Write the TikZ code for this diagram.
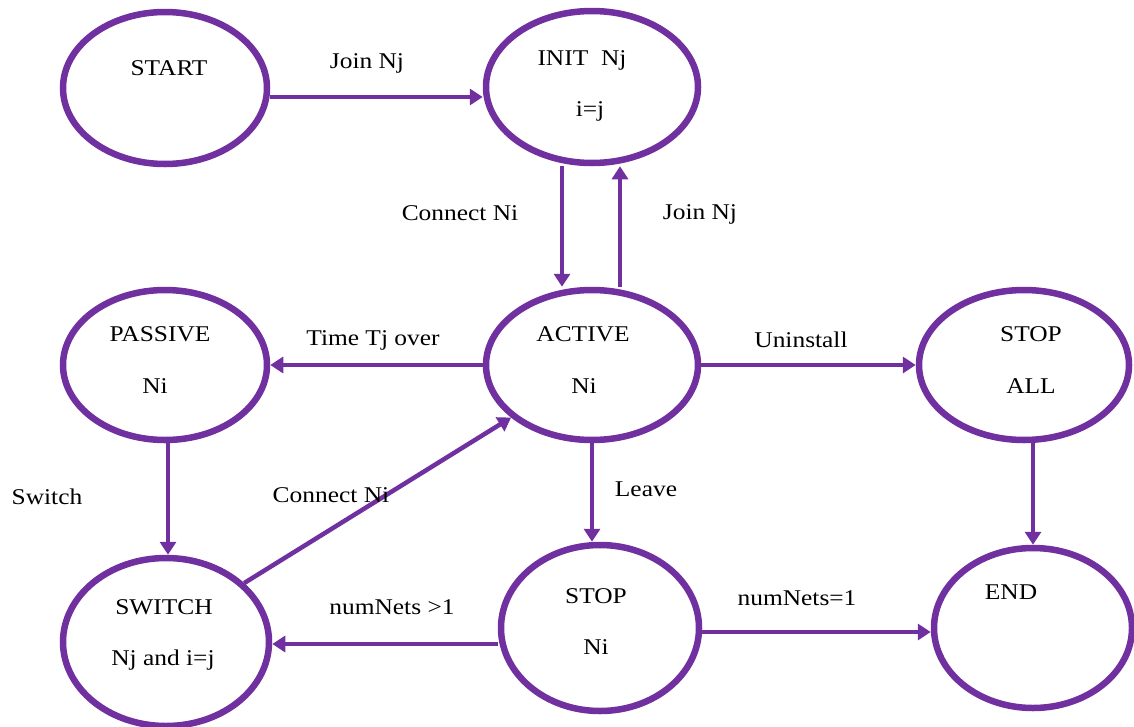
\documentclass[tikz,border=0pt]{standalone}
\usepackage{fontspec}
\setmainfont{Liberation Serif}[FakeStretch=1.13]
\usetikzlibrary{shapes.geometric,arrows.meta}
\definecolor{vio}{RGB}{112,48,160}
\tikzset{
  st/.style={draw=vio, line width=6.5pt, ellipse, inner sep=0pt},
  arr/.style={draw=vio, line width=4.5pt, -{Triangle[length=13pt,width=16pt]}},
  tx/.style={inner sep=0pt, font=\fontsize{22.5}{26}\selectfont, text=black},
}
\begin{document}
\begin{tikzpicture}[x=1pt,y=-1pt]
\useasboundingbox (0,0) rectangle (1134,726);
% states
\node[st, minimum width=204pt, minimum height=152pt] (start) at (165,88) {};
\node[st, minimum width=212pt, minimum height=152pt] (init) at (592,87) {};
\node[st, minimum width=204pt, minimum height=150pt] (passive) at (165,365) {};
\node[st, minimum width=212pt, minimum height=150pt] (active) at (592,365) {};
\node[st, minimum width=210pt, minimum height=150pt] (stopall) at (1024,365) {};
\node[st, minimum width=206pt, minimum height=168pt] (switch) at (166,642) {};
\node[st, minimum width=198pt, minimum height=166pt] (stop) at (600,628) {};
\node[st, minimum width=198pt, minimum height=160pt] (end) at (1033,628) {};
% state texts
\node[tx] (t1) at (169,68) {START};
\node[tx] (t2) at (582,60) {INIT\ \ Nj};
\node[tx] (t3) at (590,111) {i=j};
\node[tx] (t4) at (160,334) {PASSIVE};
\node[tx] (t5) at (155,386) {Ni};
\node[tx] (t6) at (583,334) {ACTIVE};
\node[tx] (t7) at (584,386) {Ni};
\node[tx] (t8) at (1031,334) {STOP};
\node[tx] (t9) at (1031,386) {ALL};
\node[tx] (t10) at (164,607) {SWITCH};
\node[tx] (t11) at (163,660) {Nj and i=j};
\node[tx] (t12) at (596,596) {STOP};
\node[tx] (t13) at (596,647) {Ni};
\node[tx] (t14) at (1011,592) {END};
% connectors
\draw[arr] (start.east |- 0,97) -- (init.west |- 0,97);
\draw[arr] (init.south -| 562,0) -- (active.north -| 562,0);
\draw[arr] (active.north -| 620,0) -- (init.south -| 620,0);
\draw[arr] (active.west) -- (passive.east);
\draw[arr] (active.east) -- (stopall.west);
\draw[arr] (passive.south -| 168,0) -- (switch.north -| 168,0);
\draw[arr] (switch.37) -- (active.213);
\draw[arr] (active.south) -- (stop.north -| active.south);
\draw[arr] (stopall.south -| 1033,0) -- (end.north);
\draw[arr] (stop.west |- 0,644) -- (switch.east |- 0,644);
\draw[arr] (stop.east |- 0,632) -- (end.west |- 0,632);
% labels
\node[tx] (l1) at (367,63) {Join Nj};
\node[tx] (l2) at (460,213) {Connect Ni};
\node[tx] (l3) at (700,214) {Join Nj};
\node[tx] (l4) at (373,340) {Time Tj\ over};
\node[tx] (l5) at (801,340) {Uninstall};
\node[tx] (l6) at (47,497) {Switch};
\node[tx] (l7) at (331,495) {Connect Ni};
\node[tx] (l8) at (646,489) {Leave};
\node[tx] (l9) at (392,607) {numNets >1};
\node[tx] (l10) at (797,598) {numNets=1};
\end{tikzpicture}
\end{document}
